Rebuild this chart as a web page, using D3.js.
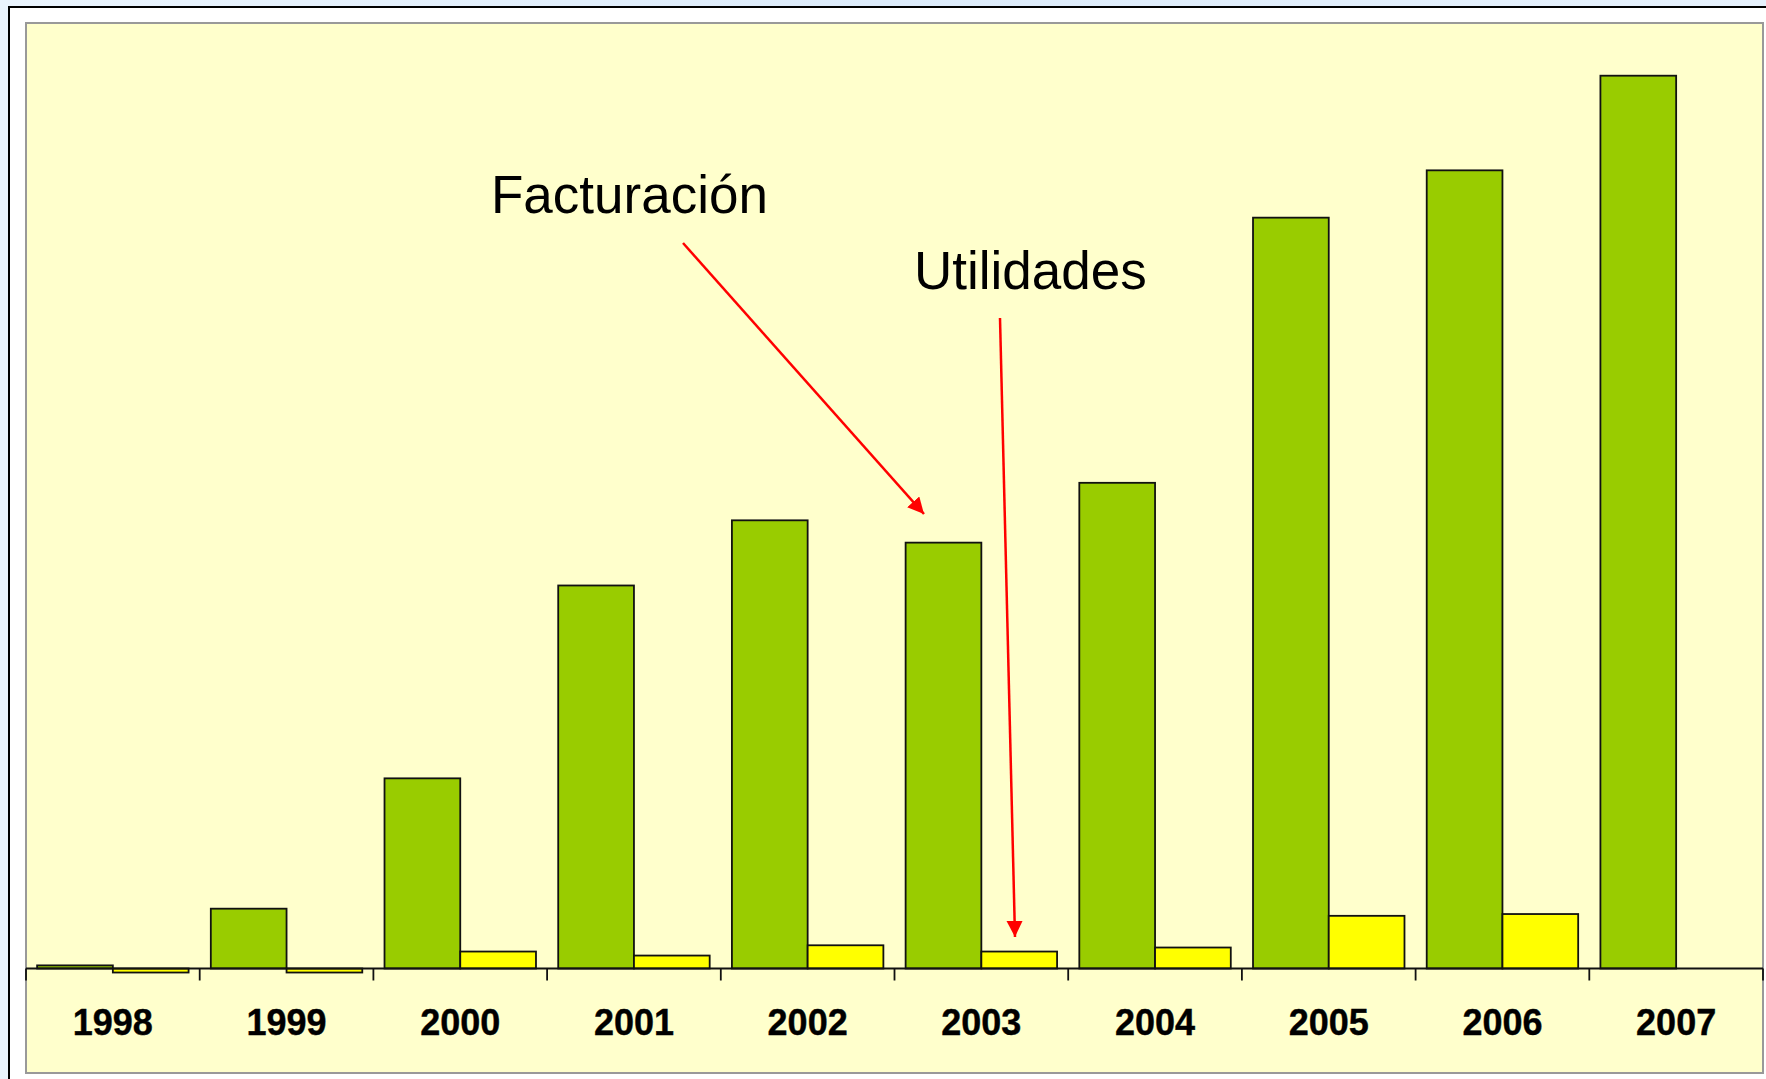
<!DOCTYPE html>
<html>
<head>
<meta charset="utf-8">
<script src="https://cdn.jsdelivr.net/npm/d3@7"></script>
<style>
  body { margin: 0; background: #e4f0fb; overflow: hidden; }
  svg { display: block; }
</style>
</head>
<body>
<div id="chart"></div>
<script>
// data (no units shown, 2007 facturacion = 100)
var years = ["1998", "1999", "2000", "2001", "2002", "2003", "2004", "2005", "2006", "2007"];
var facturacion = [0.35, 6.7, 21.3, 42.9, 50.2, 47.7, 54.4, 84.1, 89.4, 100];
var utilidades = [-0.45, -0.45, 1.9, 1.45, 2.6, 1.9, 2.35, 5.9, 6.1, null];
var seriesNames = ["Facturación", "Utilidades"];
var seriesColors = ["#99cc00", "#ffff00"];

var svgWidth = 1766;
var svgHeight = 1079;

// plot area box
var plot = { left: 26, top: 23, right: 1763, bottom: 1073 };
var baseY = 968.5;

var svg = d3.select("#chart")
    .append("svg")
    .attr("width", svgWidth)
    .attr("height", svgHeight);

// light slide background + white frame
var grad = svg.append("defs").append("linearGradient")
    .attr("id", "bg")
    .attr("x1", 0).attr("y1", 0).attr("x2", 1).attr("y2", 0);
grad.append("stop").attr("offset", "0%").attr("stop-color", "#eaf4fd");
grad.append("stop").attr("offset", "50%").attr("stop-color", "#dcebfa");
grad.append("stop").attr("offset", "100%").attr("stop-color", "#e6f1fc");

svg.append("rect")
    .attr("width", svgWidth)
    .attr("height", svgHeight)
    .attr("fill", "url(#bg)");

svg.append("rect")
    .attr("x", 9)
    .attr("y", 7)
    .attr("width", svgWidth)
    .attr("height", svgHeight)
    .attr("fill", "#ffffff")
    .attr("stroke", "#000")
    .attr("stroke-width", 2);

// plot area
svg.append("rect")
    .attr("x", plot.left)
    .attr("y", plot.top)
    .attr("width", plot.right - plot.left)
    .attr("height", plot.bottom - plot.top)
    .attr("fill", "#ffffcc")
    .attr("stroke", "#999999")
    .attr("stroke-width", 2);

// scales
var x0 = d3.scaleBand()
    .domain(years)
    .range([plot.left, plot.right])
    .paddingInner(0.128)
    .paddingOuter(0.064);

var x1 = d3.scaleBand()
    .domain(seriesNames)
    .range([0, x0.bandwidth()]);

var yScale = d3.scaleLinear()
    .domain([0, 100])
    .range([baseY, 75.7]);

var rows = years.map(function(yr, i) {
    return { year: yr, values: [facturacion[i], utilidades[i]] };
});

var groups = svg.selectAll(".yearGroup")
    .data(rows)
    .enter()
    .append("g")
    .classed("yearGroup", true)
    .attr("transform", d => `translate(${x0(d.year)}, 0)`);

groups.selectAll("rect")
    .data(d => d.values.map(function(v, j) { return { name: seriesNames[j], value: v, color: seriesColors[j] }; })
        .filter(b => b.value !== null))
    .enter()
    .append("rect")
    .attr("x", d => x1(d.name))
    .attr("y", d => Math.min(yScale(d.value), yScale(0)))
    .attr("width", x1.bandwidth())
    .attr("height", d => Math.abs(yScale(d.value) - yScale(0)))
    .attr("fill", d => d.color)
    .attr("stroke", "#111")
    .attr("stroke-width", 1.8);

// x axis: line with ticks between categories
var edges = d3.range(years.length + 1).map(i => plot.left + i * x0.step());

svg.append("line")
    .attr("x1", plot.left)
    .attr("x2", plot.right)
    .attr("y1", yScale(0))
    .attr("y2", yScale(0))
    .attr("stroke", "#111")
    .attr("stroke-width", 1.8);

svg.selectAll(".tickMark")
    .data(edges)
    .enter()
    .append("line")
    .classed("tickMark", true)
    .attr("x1", d => d)
    .attr("x2", d => d)
    .attr("y1", yScale(0))
    .attr("y2", yScale(0) + 12)
    .attr("stroke", "#111")
    .attr("stroke-width", 1.8);

svg.selectAll(".yearLabel")
    .data(years)
    .enter()
    .append("text")
    .classed("yearLabel", true)
    .attr("x", d => x0(d) + x0.bandwidth() / 2)
    .attr("y", 1035)
    .attr("text-anchor", "middle")
    .attr("font-family", "'Liberation Sans', Arial, sans-serif")
    .attr("font-weight", "bold")
    .attr("font-size", "36px")
    .attr("fill", "#000")
    .attr("stroke", "#000")
    .attr("stroke-width", 0.4)
    .text(d => d);

// annotations with red arrows
svg.select("defs").append("marker")
    .attr("id", "arrow")
    .attr("viewBox", "0 0 10 10")
    .attr("refX", 10)
    .attr("refY", 5)
    .attr("markerWidth", 6.5)
    .attr("markerHeight", 6.5)
    .attr("markerUnits", "strokeWidth")
    .attr("orient", "auto")
    .append("path")
    .attr("d", "M0,0 L10,5 L0,10 z")
    .attr("fill", "#ff0000");

var notes = [
    { text: "Facturación", tx: 491, ty: 213, x1: 683, y1: 243, x2: 924, y2: 514 },
    { text: "Utilidades", tx: 914, ty: 289, x1: 1000, y1: 318, x2: 1015, y2: 937 }
];

svg.selectAll(".noteText")
    .data(notes)
    .enter()
    .append("text")
    .classed("noteText", true)
    .attr("x", d => d.tx)
    .attr("y", d => d.ty)
    .attr("font-family", "'Liberation Sans', Arial, sans-serif")
    .attr("font-size", "53px")
    .attr("fill", "#000")
    .text(d => d.text);

svg.selectAll(".noteArrow")
    .data(notes)
    .enter()
    .append("line")
    .classed("noteArrow", true)
    .attr("x1", d => d.x1)
    .attr("y1", d => d.y1)
    .attr("x2", d => d.x2)
    .attr("y2", d => d.y2)
    .attr("stroke", "#ff0000")
    .attr("stroke-width", 2.5)
    .attr("marker-end", "url(#arrow)");
</script>
</body>
</html>
